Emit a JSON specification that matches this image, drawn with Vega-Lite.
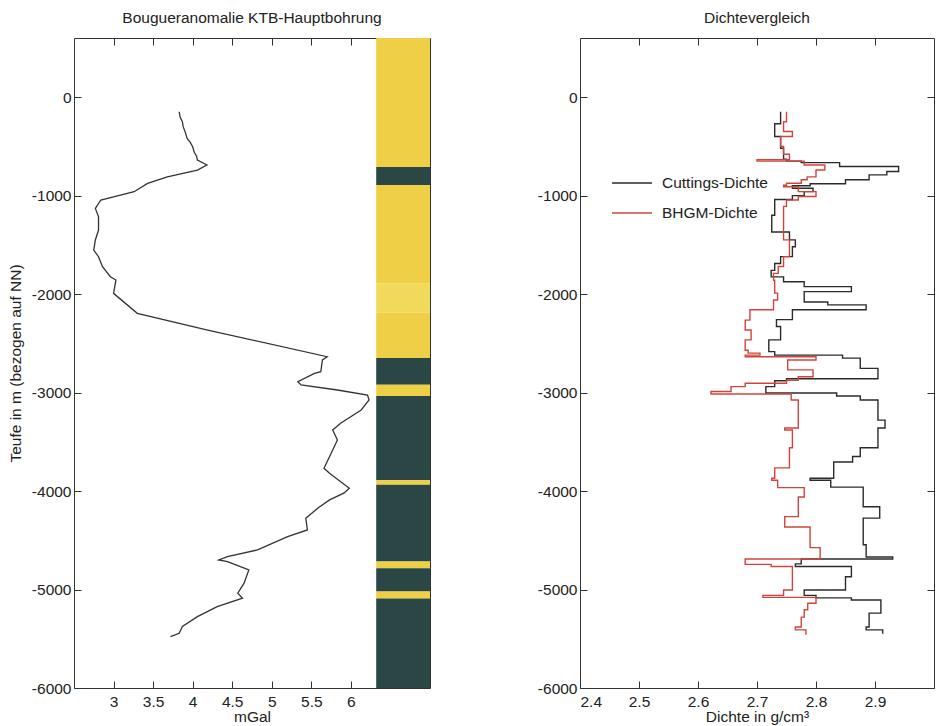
{
  "$schema": "https://vega.github.io/schema/vega-lite/v6.json",
  "background": "white",
  "padding": {"left": 7, "top": 10, "right": 0, "bottom": 0},
  "bounds": "flush",
  "spacing": 150,
  "resolve": {"scale": {"color": "independent"}, "legend": {"color": "independent"}},
  "config": {
    "font": "Liberation Sans",
    "view": {"stroke": "#333", "strokeWidth": 1},
    "axis": {"labelFontSize": 15.5, "titleFontSize": 15.5, "titleFontWeight": "normal", "labelColor": "#222", "titleColor": "#222", "tickColor": "#333", "domain": false, "grid": false, "tickSize": -7},
    "axisX": {"labelPadding": 13},
    "axisY": {"labelPadding": 10},
    "title": {"fontSize": 15.5, "fontWeight": "normal", "color": "#222", "offset": 11}
  },
  "datasets": {
    "litho": [
      {"top": 600, "bottom": -711, "rock": "Paragneis"},
      {"top": -711, "bottom": -893, "rock": "Metabasit"},
      {"top": -893, "bottom": -1890, "rock": "Paragneis"},
      {"top": -1890, "bottom": -2190, "rock": "Paragneis hell"},
      {"top": -2190, "bottom": -2650, "rock": "Paragneis"},
      {"top": -2650, "bottom": -2920, "rock": "Metabasit"},
      {"top": -2920, "bottom": -3035, "rock": "Paragneis"},
      {"top": -3035, "bottom": -3890, "rock": "Metabasit"},
      {"top": -3890, "bottom": -3935, "rock": "Paragneis"},
      {"top": -3935, "bottom": -4715, "rock": "Metabasit"},
      {"top": -4715, "bottom": -4785, "rock": "Paragneis"},
      {"top": -4785, "bottom": -5020, "rock": "Metabasit"},
      {"top": -5020, "bottom": -5090, "rock": "Paragneis"},
      {"top": -5090, "bottom": -6000, "rock": "Metabasit"}
    ],
    "bouguer": [
      {"depth": -149, "mGal": 3.83}, {"depth": -200, "mGal": 3.84}, {"depth": -250, "mGal": 3.87}, {"depth": -300, "mGal": 3.88},
      {"depth": -366, "mGal": 3.91}, {"depth": -420, "mGal": 3.93}, {"depth": -460, "mGal": 3.97}, {"depth": -504, "mGal": 4.0},
      {"depth": -560, "mGal": 4.02}, {"depth": -600, "mGal": 4.05}, {"depth": -640, "mGal": 4.06}, {"depth": -690, "mGal": 4.18},
      {"depth": -741, "mGal": 4.06}, {"depth": -809, "mGal": 3.68}, {"depth": -876, "mGal": 3.43}, {"depth": -961, "mGal": 3.26},
      {"depth": -1012, "mGal": 3.0}, {"depth": -1045, "mGal": 2.84}, {"depth": -1130, "mGal": 2.77}, {"depth": -1215, "mGal": 2.81},
      {"depth": -1350, "mGal": 2.81}, {"depth": -1451, "mGal": 2.77}, {"depth": -1553, "mGal": 2.75}, {"depth": -1621, "mGal": 2.81},
      {"depth": -1722, "mGal": 2.86}, {"depth": -1824, "mGal": 2.96}, {"depth": -1857, "mGal": 3.03}, {"depth": -1993, "mGal": 3.0},
      {"depth": -2196, "mGal": 3.3}, {"depth": -2365, "mGal": 4.19}, {"depth": -2636, "mGal": 5.7}, {"depth": -2669, "mGal": 5.64},
      {"depth": -2788, "mGal": 5.62}, {"depth": -2805, "mGal": 5.54}, {"depth": -2890, "mGal": 5.33}, {"depth": -2923, "mGal": 5.37},
      {"depth": -2974, "mGal": 5.83}, {"depth": -3025, "mGal": 6.21}, {"depth": -3075, "mGal": 6.23}, {"depth": -3177, "mGal": 6.13},
      {"depth": -3312, "mGal": 5.87}, {"depth": -3380, "mGal": 5.77}, {"depth": -3481, "mGal": 5.83}, {"depth": -3583, "mGal": 5.77},
      {"depth": -3769, "mGal": 5.66}, {"depth": -3820, "mGal": 5.73}, {"depth": -3972, "mGal": 5.98}, {"depth": -4022, "mGal": 5.91},
      {"depth": -4090, "mGal": 5.73}, {"depth": -4175, "mGal": 5.58}, {"depth": -4276, "mGal": 5.43}, {"depth": -4395, "mGal": 5.45},
      {"depth": -4463, "mGal": 5.2}, {"depth": -4598, "mGal": 4.82}, {"depth": -4666, "mGal": 4.44}, {"depth": -4700, "mGal": 4.33},
      {"depth": -4717, "mGal": 4.44}, {"depth": -4801, "mGal": 4.71}, {"depth": -4936, "mGal": 4.65}, {"depth": -5037, "mGal": 4.57},
      {"depth": -5088, "mGal": 4.63}, {"depth": -5173, "mGal": 4.31}, {"depth": -5275, "mGal": 4.06}, {"depth": -5376, "mGal": 3.87},
      {"depth": -5444, "mGal": 3.83}, {"depth": -5478, "mGal": 3.72}
    ],
    "dichte": [
      {"series": "Cuttings-Dichte", "depth": -150, "rho": 2.74},
      {"series": "Cuttings-Dichte", "depth": -270, "rho": 2.73},
      {"series": "Cuttings-Dichte", "depth": -400, "rho": 2.74},
      {"series": "Cuttings-Dichte", "depth": -520, "rho": 2.745},
      {"series": "Cuttings-Dichte", "depth": -630, "rho": 2.75},
      {"series": "Cuttings-Dichte", "depth": -650, "rho": 2.775},
      {"series": "Cuttings-Dichte", "depth": -665, "rho": 2.84},
      {"series": "Cuttings-Dichte", "depth": -705, "rho": 2.94},
      {"series": "Cuttings-Dichte", "depth": -755, "rho": 2.92},
      {"series": "Cuttings-Dichte", "depth": -790, "rho": 2.89},
      {"series": "Cuttings-Dichte", "depth": -840, "rho": 2.85},
      {"series": "Cuttings-Dichte", "depth": -880, "rho": 2.79},
      {"series": "Cuttings-Dichte", "depth": -900, "rho": 2.76},
      {"series": "Cuttings-Dichte", "depth": -925, "rho": 2.795},
      {"series": "Cuttings-Dichte", "depth": -960, "rho": 2.78},
      {"series": "Cuttings-Dichte", "depth": -1000, "rho": 2.76},
      {"series": "Cuttings-Dichte", "depth": -1040, "rho": 2.73},
      {"series": "Cuttings-Dichte", "depth": -1200, "rho": 2.725},
      {"series": "Cuttings-Dichte", "depth": -1370, "rho": 2.755},
      {"series": "Cuttings-Dichte", "depth": -1450, "rho": 2.765},
      {"series": "Cuttings-Dichte", "depth": -1520, "rho": 2.76},
      {"series": "Cuttings-Dichte", "depth": -1620, "rho": 2.74},
      {"series": "Cuttings-Dichte", "depth": -1690, "rho": 2.73},
      {"series": "Cuttings-Dichte", "depth": -1760, "rho": 2.724},
      {"series": "Cuttings-Dichte", "depth": -1825, "rho": 2.745},
      {"series": "Cuttings-Dichte", "depth": -1875, "rho": 2.78},
      {"series": "Cuttings-Dichte", "depth": -1925, "rho": 2.86},
      {"series": "Cuttings-Dichte", "depth": -1975, "rho": 2.78},
      {"series": "Cuttings-Dichte", "depth": -2080, "rho": 2.82},
      {"series": "Cuttings-Dichte", "depth": -2110, "rho": 2.885},
      {"series": "Cuttings-Dichte", "depth": -2160, "rho": 2.76},
      {"series": "Cuttings-Dichte", "depth": -2260, "rho": 2.733},
      {"series": "Cuttings-Dichte", "depth": -2330, "rho": 2.74},
      {"series": "Cuttings-Dichte", "depth": -2465, "rho": 2.72},
      {"series": "Cuttings-Dichte", "depth": -2585, "rho": 2.73},
      {"series": "Cuttings-Dichte", "depth": -2620, "rho": 2.845},
      {"series": "Cuttings-Dichte", "depth": -2650, "rho": 2.875},
      {"series": "Cuttings-Dichte", "depth": -2755, "rho": 2.905},
      {"series": "Cuttings-Dichte", "depth": -2860, "rho": 2.75},
      {"series": "Cuttings-Dichte", "depth": -2880, "rho": 2.73},
      {"series": "Cuttings-Dichte", "depth": -2940, "rho": 2.715},
      {"series": "Cuttings-Dichte", "depth": -3005, "rho": 2.835},
      {"series": "Cuttings-Dichte", "depth": -3035, "rho": 2.875},
      {"series": "Cuttings-Dichte", "depth": -3075, "rho": 2.905},
      {"series": "Cuttings-Dichte", "depth": -3280, "rho": 2.917},
      {"series": "Cuttings-Dichte", "depth": -3360, "rho": 2.905},
      {"series": "Cuttings-Dichte", "depth": -3560, "rho": 2.875},
      {"series": "Cuttings-Dichte", "depth": -3650, "rho": 2.862},
      {"series": "Cuttings-Dichte", "depth": -3705, "rho": 2.83},
      {"series": "Cuttings-Dichte", "depth": -3870, "rho": 2.79},
      {"series": "Cuttings-Dichte", "depth": -3890, "rho": 2.825},
      {"series": "Cuttings-Dichte", "depth": -3960, "rho": 2.88},
      {"series": "Cuttings-Dichte", "depth": -4160, "rho": 2.908},
      {"series": "Cuttings-Dichte", "depth": -4275, "rho": 2.88},
      {"series": "Cuttings-Dichte", "depth": -4545, "rho": 2.885},
      {"series": "Cuttings-Dichte", "depth": -4670, "rho": 2.93},
      {"series": "Cuttings-Dichte", "depth": -4690, "rho": 2.775},
      {"series": "Cuttings-Dichte", "depth": -4740, "rho": 2.765},
      {"series": "Cuttings-Dichte", "depth": -4767, "rho": 2.86},
      {"series": "Cuttings-Dichte", "depth": -4870, "rho": 2.85},
      {"series": "Cuttings-Dichte", "depth": -5005, "rho": 2.78},
      {"series": "Cuttings-Dichte", "depth": -5060, "rho": 2.8},
      {"series": "Cuttings-Dichte", "depth": -5085, "rho": 2.86},
      {"series": "Cuttings-Dichte", "depth": -5106, "rho": 2.91},
      {"series": "Cuttings-Dichte", "depth": -5240, "rho": 2.89},
      {"series": "Cuttings-Dichte", "depth": -5380, "rho": 2.885},
      {"series": "Cuttings-Dichte", "depth": -5410, "rho": 2.913},
      {"series": "Cuttings-Dichte", "depth": -5450, "rho": 2.913},
      {"series": "BHGM-Dichte", "depth": -150, "rho": 2.75},
      {"series": "BHGM-Dichte", "depth": -250, "rho": 2.745},
      {"series": "BHGM-Dichte", "depth": -350, "rho": 2.76},
      {"series": "BHGM-Dichte", "depth": -400, "rho": 2.74},
      {"series": "BHGM-Dichte", "depth": -500, "rho": 2.745},
      {"series": "BHGM-Dichte", "depth": -580, "rho": 2.755},
      {"series": "BHGM-Dichte", "depth": -635, "rho": 2.7},
      {"series": "BHGM-Dichte", "depth": -650, "rho": 2.78},
      {"series": "BHGM-Dichte", "depth": -690, "rho": 2.815},
      {"series": "BHGM-Dichte", "depth": -740, "rho": 2.8},
      {"series": "BHGM-Dichte", "depth": -810, "rho": 2.785},
      {"series": "BHGM-Dichte", "depth": -840, "rho": 2.775},
      {"series": "BHGM-Dichte", "depth": -875, "rho": 2.75},
      {"series": "BHGM-Dichte", "depth": -895, "rho": 2.745},
      {"series": "BHGM-Dichte", "depth": -910, "rho": 2.77},
      {"series": "BHGM-Dichte", "depth": -960, "rho": 2.8},
      {"series": "BHGM-Dichte", "depth": -1010, "rho": 2.77},
      {"series": "BHGM-Dichte", "depth": -1045, "rho": 2.75},
      {"series": "BHGM-Dichte", "depth": -1110, "rho": 2.745},
      {"series": "BHGM-Dichte", "depth": -1450, "rho": 2.755},
      {"series": "BHGM-Dichte", "depth": -1620, "rho": 2.745},
      {"series": "BHGM-Dichte", "depth": -1720, "rho": 2.736},
      {"series": "BHGM-Dichte", "depth": -1790, "rho": 2.728},
      {"series": "BHGM-Dichte", "depth": -1860, "rho": 2.73},
      {"series": "BHGM-Dichte", "depth": -1990, "rho": 2.735},
      {"series": "BHGM-Dichte", "depth": -2060, "rho": 2.728},
      {"series": "BHGM-Dichte", "depth": -2160, "rho": 2.688},
      {"series": "BHGM-Dichte", "depth": -2265, "rho": 2.68},
      {"series": "BHGM-Dichte", "depth": -2365, "rho": 2.69},
      {"series": "BHGM-Dichte", "depth": -2465, "rho": 2.68},
      {"series": "BHGM-Dichte", "depth": -2570, "rho": 2.685},
      {"series": "BHGM-Dichte", "depth": -2600, "rho": 2.705},
      {"series": "BHGM-Dichte", "depth": -2620, "rho": 2.68},
      {"series": "BHGM-Dichte", "depth": -2636, "rho": 2.8},
      {"series": "BHGM-Dichte", "depth": -2670, "rho": 2.752},
      {"series": "BHGM-Dichte", "depth": -2770, "rho": 2.795},
      {"series": "BHGM-Dichte", "depth": -2840, "rho": 2.77},
      {"series": "BHGM-Dichte", "depth": -2875, "rho": 2.75},
      {"series": "BHGM-Dichte", "depth": -2905, "rho": 2.68},
      {"series": "BHGM-Dichte", "depth": -2940, "rho": 2.656},
      {"series": "BHGM-Dichte", "depth": -2990, "rho": 2.622},
      {"series": "BHGM-Dichte", "depth": -3015, "rho": 2.758},
      {"series": "BHGM-Dichte", "depth": -3075, "rho": 2.77},
      {"series": "BHGM-Dichte", "depth": -3360, "rho": 2.747},
      {"series": "BHGM-Dichte", "depth": -3380, "rho": 2.76},
      {"series": "BHGM-Dichte", "depth": -3560, "rho": 2.755},
      {"series": "BHGM-Dichte", "depth": -3765, "rho": 2.73},
      {"series": "BHGM-Dichte", "depth": -3870, "rho": 2.725},
      {"series": "BHGM-Dichte", "depth": -3890, "rho": 2.735},
      {"series": "BHGM-Dichte", "depth": -3965, "rho": 2.78},
      {"series": "BHGM-Dichte", "depth": -4060, "rho": 2.77},
      {"series": "BHGM-Dichte", "depth": -4260, "rho": 2.747},
      {"series": "BHGM-Dichte", "depth": -4365, "rho": 2.79},
      {"series": "BHGM-Dichte", "depth": -4575, "rho": 2.807},
      {"series": "BHGM-Dichte", "depth": -4690, "rho": 2.68},
      {"series": "BHGM-Dichte", "depth": -4745, "rho": 2.724},
      {"series": "BHGM-Dichte", "depth": -4767, "rho": 2.76},
      {"series": "BHGM-Dichte", "depth": -5005, "rho": 2.745},
      {"series": "BHGM-Dichte", "depth": -5060, "rho": 2.71},
      {"series": "BHGM-Dichte", "depth": -5080, "rho": 2.8},
      {"series": "BHGM-Dichte", "depth": -5140, "rho": 2.786},
      {"series": "BHGM-Dichte", "depth": -5205, "rho": 2.78},
      {"series": "BHGM-Dichte", "depth": -5280, "rho": 2.775},
      {"series": "BHGM-Dichte", "depth": -5380, "rho": 2.765},
      {"series": "BHGM-Dichte", "depth": -5410, "rho": 2.783},
      {"series": "BHGM-Dichte", "depth": -5460, "rho": 2.783}
    ]
  },
  "hconcat": [
    {
      "width": 356,
      "height": 650,
      "title": {"text": "Bougueranomalie KTB-Hauptbohrung"},
      "layer": [
        {
          "data": {"name": "litho"},
          "mark": {"type": "rect"},
          "encoding": {
            "x": {"datum": 6.32, "type": "quantitative", "scale": {"domain": [2.5, 7], "nice": false, "zero": false},
                  "axis": {"values": [3, 3.5, 4, 4.5, 5, 5.5, 6], "labelExpr": "'' + datum.value", "title": "mGal", "titlePadding": 0}},
            "x2": {"datum": 7},
            "y": {"field": "top", "type": "quantitative", "scale": {"domain": [-6000, 600], "nice": false, "zero": false},
                  "axis": {"values": [0, -1000, -2000, -3000, -4000, -5000, -6000], "labelExpr": "'' + datum.value", "title": "Teufe in m (bezogen auf NN)", "titlePadding": 8}},
            "y2": {"field": "bottom"},
            "color": {"field": "rock", "type": "nominal", "legend": null,
                      "scale": {"domain": ["Paragneis", "Paragneis hell", "Metabasit"], "range": ["#efcf45", "#f1da5a", "#2b4745"]}}
          }
        },
        {
          "data": {"name": "bouguer"},
          "mark": {"type": "line", "color": "#333", "strokeWidth": 1.3},
          "encoding": {
            "x": {"field": "mGal", "type": "quantitative", "axis": null},
            "y": {"field": "depth", "type": "quantitative"},
            "order": {"field": "depth", "sort": "descending"}
          }
        },
        {
          "data": {"name": "bouguer"},
          "mark": {"type": "point", "opacity": 0},
          "encoding": {
            "x": {"field": "mGal", "type": "quantitative",
                  "axis": {"orient": "top", "values": [3, 3.5, 4, 4.5, 5, 5.5, 6], "labels": false, "title": null}},
            "y": {"field": "depth", "type": "quantitative"}
          }
        }
      ],
      "resolve": {"axis": {"x": "independent"}}
    },
    {
      "width": 354,
      "height": 650,
      "title": {"text": "Dichtevergleich"},
      "data": {"name": "dichte"},
      "layer": [
        {
          "mark": {"type": "line", "interpolate": "step-before", "strokeWidth": 1.4},
          "encoding": {
            "x": {"field": "rho", "type": "quantitative", "scale": {"domain": [2.4, 3.0], "nice": false, "zero": false},
                  "axis": {"values": [2.4, 2.5, 2.6, 2.7, 2.8, 2.9], "labelExpr": "'' + datum.value", "title": "Dichte in g/cm³", "titlePadding": 0}},
            "y": {"field": "depth", "type": "quantitative", "scale": {"domain": [-6000, 600], "nice": false, "zero": false},
                  "axis": {"values": [0, -1000, -2000, -3000, -4000, -5000, -6000], "labelExpr": "'' + datum.value", "title": null}},
            "color": {"field": "series", "type": "nominal",
                      "scale": {"domain": ["Cuttings-Dichte", "BHGM-Dichte"], "range": ["#2b2b2b", "#d0453b"]},
                      "legend": {"orient": "none", "legendX": 31, "legendY": 124, "title": null, "symbolType": "stroke", "symbolSize": 1600, "symbolStrokeWidth": 1.4, "labelFontSize": 15.5, "labelColor": "#222", "labelOffset": 9, "rowPadding": -10, "padding": 0}},
            "order": {"field": "depth", "sort": "descending"}
          }
        },
        {
          "mark": {"type": "point", "opacity": 0},
          "encoding": {
            "x": {"field": "rho", "type": "quantitative",
                  "axis": {"orient": "top", "values": [2.5, 2.6, 2.7, 2.8, 2.9], "labels": false, "title": null}},
            "y": {"field": "depth", "type": "quantitative",
                  "axis": {"orient": "right", "values": [0, -1000, -2000, -3000, -4000, -5000, -6000], "labels": false, "title": null}}
          }
        }
      ],
      "resolve": {"axis": {"x": "independent", "y": "independent"}}
    }
  ]
}
